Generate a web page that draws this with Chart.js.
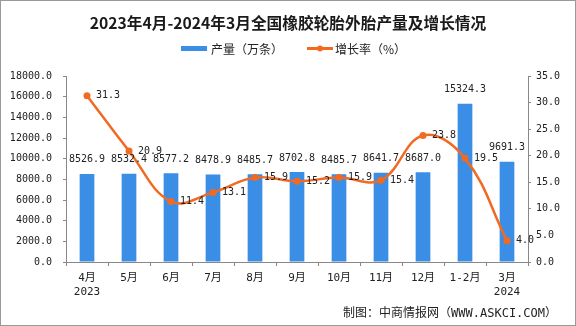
<!DOCTYPE html>
<html>
<head>
<meta charset="utf-8">
<script src="https://cdn.jsdelivr.net/npm/chart.js@4"></script>
<style>
  html, body { margin: 0; padding: 0; background: #fff; }
  #wrap { width: 576px; height: 326px; }
</style>
</head>
<body>
<div id="wrap"><canvas id="chart" width="576" height="326"></canvas></div>
<script>
const months = [['4月', '2023'], '5月', '6月', '7月', '8月', '9月', '10月', '11月', '12月', '1-2月', ['3月', '2024']];
const output = [8526.9, 8532.4, 8577.2, 8478.9, 8485.7, 8702.8, 8485.7, 8641.7, 8687.0, 15324.3, 9691.3];
const growth = [31.3, 20.9, 11.4, 13.1, 15.9, 15.2, 15.9, 15.4, 23.8, 19.5, 4.0];

const titleText = '2023年4月-2024年3月全国橡胶轮胎外胎产量及增长情况';
const sourceText = '制图：中商情报网（WWW.ASKCI.COM）';

const BLUE = '#3a8ee6';
const ORANGE = '#f26a21';
const MONO = '"DejaVu Sans Mono", "Noto Sans CJK SC", monospace';

// title, legend, value labels, footer and frame
const extras = {
    id: 'extras',
    afterDatasetsDraw(chart) {
        const ctx = chart.ctx;
        ctx.save();

        ctx.fillStyle = '#1a1a1a';
        ctx.font = 'bold 15.7px "Noto Sans CJK SC", sans-serif';
        ctx.textAlign = 'center';
        ctx.textBaseline = 'middle';
        ctx.fillText(titleText, 288, 23);

        // legend
        ctx.fillStyle = BLUE;
        ctx.fillRect(181, 46, 26, 5);
        ctx.strokeStyle = ORANGE;
        ctx.lineWidth = 3;
        ctx.beginPath();
        ctx.moveTo(307, 48.5);
        ctx.lineTo(333, 48.5);
        ctx.stroke();
        ctx.fillStyle = ORANGE;
        ctx.beginPath();
        ctx.arc(320, 48.5, 3, 0, Math.PI * 2);
        ctx.fill();
        ctx.fillStyle = '#222';
        ctx.font = '12px "Noto Sans CJK SC", sans-serif';
        ctx.textAlign = 'left';
        ctx.fillText('产量（万条）', 211, 49);
        ctx.fillText('增长率（%）', 335, 49);

        // value labels
        ctx.font = '10px ' + MONO;
        ctx.fillStyle = '#222';
        const bars = chart.getDatasetMeta(0).data;
        ctx.textAlign = 'center';
        ctx.textBaseline = 'middle';
        bars.forEach((el, i) => {
            ctx.fillText(output[i].toFixed(1), el.x, el.y - 14);
        });
        const pts = chart.getDatasetMeta(1).data;
        ctx.textAlign = 'left';
        pts.forEach((el, i) => {
            ctx.fillText(growth[i].toFixed(1), el.x + 9, el.y);
        });

        // footer
        ctx.font = '12px ' + MONO;
        ctx.textAlign = 'right';
        ctx.fillText(sourceText, 557, 314);

        ctx.strokeStyle = '#999';
        ctx.lineWidth = 1;
        ctx.strokeRect(0.5, 0.5, 575, 325);
        ctx.restore();
    }
};

new Chart(document.getElementById('chart'), {
    type: 'bar',
    data: {
        labels: months,
        datasets: [{
            label: '产量（万条）',
            data: output,
            backgroundColor: BLUE,
            yAxisID: 'y',
            barPercentage: 0.35,
            categoryPercentage: 1,
            order: 2
        }, {
            type: 'line',
            label: '增长率（%）',
            data: growth,
            borderColor: ORANGE,
            backgroundColor: ORANGE,
            borderWidth: 2.5,
            pointRadius: 3.5,
            pointBackgroundColor: ORANGE,
            pointBorderWidth: 0,
            tension: 0.4,
            yAxisID: 'y1',
            order: 1
        }]
    },
    options: {
        responsive: false,
        animation: false,
        layout: { padding: { top: 76, left: 0, right: 0, bottom: 0 } },
        plugins: {
            legend: { display: false },
            title: { display: false },
            tooltip: { enabled: false }
        },
        scales: {
            x: {
                grid: { drawOnChartArea: false, tickLength: 4, color: '#888' },
                border: { color: '#888' },
                ticks: { color: '#222', font: { size: 11, family: MONO, lineHeight: 1.3 }, padding: 5, maxRotation: 0, autoSkip: false },
                afterFit(s) { s.height = 64; }
            },
            y: {
                position: 'left',
                min: 0, max: 18000,
                grid: { drawOnChartArea: false, tickLength: 3, color: '#888' },
                border: { color: '#888' },
                ticks: { stepSize: 2000, color: '#222', font: { size: 10, family: MONO }, padding: 11,
                    callback: v => v.toFixed(1) },
                afterFit(s) { s.width = 66; }
            },
            y1: {
                position: 'right',
                min: 0, max: 35,
                grid: { drawOnChartArea: false, tickLength: 3, color: '#888' },
                border: { color: '#888' },
                ticks: { stepSize: 5, color: '#222', font: { size: 10, family: MONO }, padding: 5,
                    callback: v => v.toFixed(1) },
                afterFit(s) { s.width = 48; }
            }
        }
    },
    plugins: [extras]
});
</script>
</body>
</html>
